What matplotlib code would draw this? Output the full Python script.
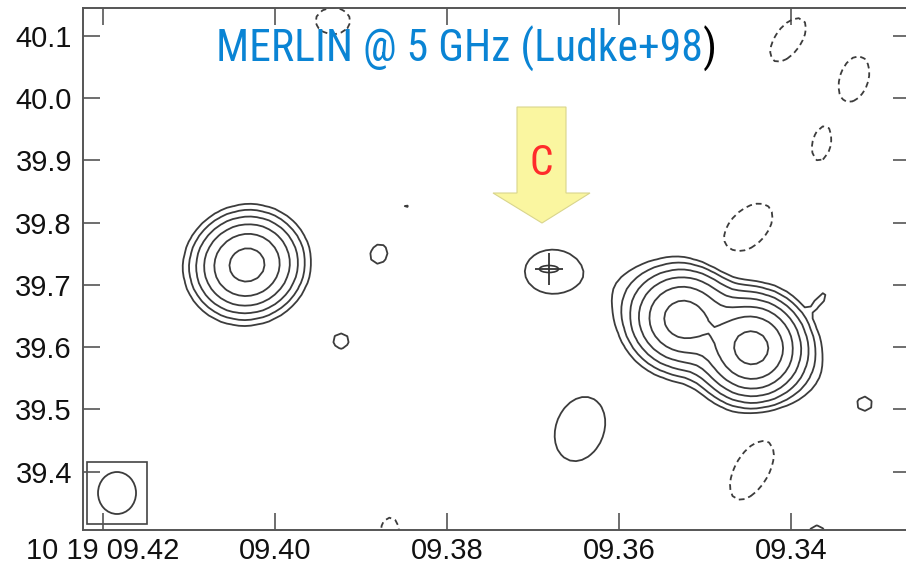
import numpy as np
import matplotlib
matplotlib.use("Agg")
import matplotlib.pyplot as plt
from matplotlib.patches import Ellipse, Rectangle, Polygon
from matplotlib import font_manager
import matplotlib.transforms as mtransforms

plt.rcParams["font.family"] = ["Liberation Sans", "DejaVu Sans"]


def narrow_font():
    """Return (family, stretch, found) for the narrowest regular sans face installed."""
    preferred = ["Liberation Sans Narrow", "Roboto Condensed", "Open Sans Condensed",
                 "Noto Sans Condensed", "DejaVu Sans Condensed"]
    entries = font_manager.fontManager.ttflist
    names = {e.name for e in entries}
    for p in preferred:
        if p in names:
            return p, "normal", True
    order = ["extra-condensed", "condensed", "semi-condensed"]
    for st in order:
        for fam in ["Noto Sans", "Open Sans", "Roboto", "DejaVu Sans", "Liberation Sans"]:
            for e in entries:
                if (e.name == fam and str(e.stretch) == st and e.style == "normal"
                        and e.weight in (400, "normal", "regular")):
                    return fam, st, True
    return "Roboto", "normal", False


# ---- Source model: elliptical Gaussian components (RA s, Dec arcsec, peak in rms units,
#      major/minor sigma in mas, position angle in degrees counter-clockwise from +x on the plot)
comp_ra = [9.40326, 9.35256, 9.34454, 9.34884, 9.33660,
           9.36779, 9.38488, 9.38791, 9.39233, 9.36454, 9.33140, 9.33698,
           9.39326, 9.34035, 9.33267, 9.33651, 9.34500, 9.34454, 9.38663]
comp_dec = [39.7320, 39.6453, 39.5987, 39.6244, 39.6758,
            39.7212, 39.8250, 39.7496, 39.6100, 39.4687, 39.5088, 39.3002,
            40.1236, 40.0931, 40.0305, 39.9246, 39.7913, 39.4029, 39.3034]
comp_peak = [42.6, 40.0, 80.0, 6.0, 1.6,
             1.8, 1.05, 1.3, 1.2, 1.5, 1.15, 1.3,
             -1.4, -1.5, -1.4, -1.4, -1.5, -1.5, -1.3]
comp_major = [37.7, 36.5, 35.3, 88.0, 16.0,
              40.0, 16.0, 22.5, 21.0, 59.0, 19.0, 19.0,
              34.0, 45.0, 46.0, 30.0, 53.0, 59.0, 21.0]
comp_minor = [35.3, 35.3, 35.3, 40.0, 5.0,
              32.0, 16.0, 19.0, 21.0, 43.0, 19.0, 19.0,
              26.0, 23.0, 28.0, 17.0, 32.0, 30.0, 32.0]
comp_pa = [20, 0, 0, -25, 50,
           0, 0, 70, 0, 70, 0, 0,
           0, 55, 72, 80, 45, 60, 0]

contour_levels = [-1, 1, 2, 4, 8, 16, 32, 64]

# ---- Axis ticks
xtick_vals = [9.42, 9.40, 9.38, 9.36, 9.34]
xtick_labels = ["10 19 09.42", "09.40", "09.38", "09.36", "09.34"]
ytick_vals = [39.4, 39.5, 39.6, 39.7, 39.8, 39.9, 40.0, 40.1]
ytick_labels = ["39.4", "39.5", "39.6", "39.7", "39.8", "39.9", "40.0", "40.1"]

# ---- Restoring beam and the marked position "C"
beam_ra, beam_dec = 9.41837, 39.36597
beam_w, beam_h = 0.00442, 0.0674
beam_box_w, beam_box_h = 0.00698, 0.0995
pos_ra, pos_dec = 9.36814, 39.7255
pos_ra_err, pos_dec_err = 0.00163, 0.0257
pos_ell_w, pos_ell_h = 0.00221, 0.0112

ARCSEC_PER_SEC = 13.8  # 15 cos(dec)

xlim = (9.422326, 9.326163)
ylim = (39.30658, 40.14398)

fig = plt.figure(figsize=(9.06, 5.67), dpi=100)
ax = fig.add_axes([83 / 906, 37 / 567, 827 / 906, 521.7 / 567])

# Map grid (coarse, like the map pixels)
ra_grid = np.arange(9.3230, 9.4250, 0.0007)
dec_grid = np.arange(39.285, 40.165, 0.0095)
R, D = np.meshgrid(ra_grid, dec_grid)
Z = np.zeros_like(R)
for ra0, dec0, pk, smaj, smin, pa in zip(comp_ra, comp_dec, comp_peak,
                                         comp_major, comp_minor, comp_pa):
    dx = -(R - ra0) * ARCSEC_PER_SEC * 1000.0
    dy = (D - dec0) * 1000.0
    t = np.radians(pa)
    u = dx * np.cos(t) + dy * np.sin(t)
    v = -dx * np.sin(t) + dy * np.cos(t)
    Z += pk * np.exp(-0.5 * ((u / smaj) ** 2 + (v / smin) ** 2))

styles = [(0, (3.2, 2.2)) if lv < 0 else "solid" for lv in contour_levels]
ax.contour(R, D, Z, levels=contour_levels, colors="#3c3c3c",
           linewidths=1.3, linestyles=styles)

# Position with error bars
ax.errorbar([pos_ra], [pos_dec], xerr=[pos_ra_err], yerr=[pos_dec_err],
            fmt="none", ecolor="#333333", elinewidth=1.3, capsize=0)
ax.add_patch(Ellipse((pos_ra, pos_dec), pos_ell_w, pos_ell_h, fill=False,
                     ec="#333333", lw=1.2))

# Beam
ax.add_patch(Rectangle((beam_ra + beam_box_w / 2, beam_dec - beam_box_h / 2),
                       -beam_box_w, beam_box_h, fill=False, ec="#444444", lw=1.2))
ax.add_patch(Ellipse((beam_ra, beam_dec), beam_w, beam_h, fill=False,
                     ec="#3c3c3c", lw=1.3))

ax.set_xlim(*xlim)
ax.set_ylim(*ylim)
ax.set_xticks(xtick_vals)
ax.set_xticklabels(xtick_labels)
ax.set_yticks(ytick_vals)
ax.set_yticklabels(ytick_labels)
ax.tick_params(direction="in", length=12, width=1.2, color="#555555",
               top=True, right=True, labelsize=21, labelcolor="#111111")
ax.tick_params(axis="y", pad=8)
ax.tick_params(axis="x", pad=5)
for sp in ax.spines.values():
    sp.set_color("#555555")
    sp.set_linewidth(1.4)

# Block arrow pointing at C (vertices in pixels relative to the marked position)
arrow_px = np.array([[0, 0], [48, 30], [24, 30], [24, 116],
                     [-25, 116], [-25, 30], [-49, 30]], dtype=float)
arrow_px += np.array([-7, 46])
trans = fig.dpi_scale_trans + mtransforms.ScaledTranslation(pos_ra, pos_dec, ax.transData)
ax.add_patch(Polygon(arrow_px / 100.0, closed=True, transform=trans,
                     fc="#FAF6A0", ec="#D9D58C", lw=0.8, zorder=4))

nfam, nstretch, is_narrow = narrow_font()
title_size = 31.5 if is_narrow else 27
c_size = 30 if is_narrow else 25
ax.annotate("C", xy=(pos_ra, pos_dec), xytext=(-8 * 0.72, 106 * 0.72),
            textcoords="offset points", ha="center", va="center",
            fontsize=c_size, color="#FF2B2B", family=[nfam, "DejaVu Sans"],
            fontstretch=nstretch, zorder=5)

# Title
fig.text(703 / 906, 505 / 567, "MERLIN @ 5 GHz (Ludke+98", ha="right",
         va="baseline", fontsize=title_size, color="#0A84D4",
         family=[nfam, "DejaVu Sans"], fontstretch=nstretch)
fig.text(703 / 906, 505 / 567, ")", ha="left", va="baseline",
         fontsize=title_size, color="#000000", family=[nfam, "DejaVu Sans"],
         fontstretch=nstretch)

fig.savefig("out.png", dpi=100)
